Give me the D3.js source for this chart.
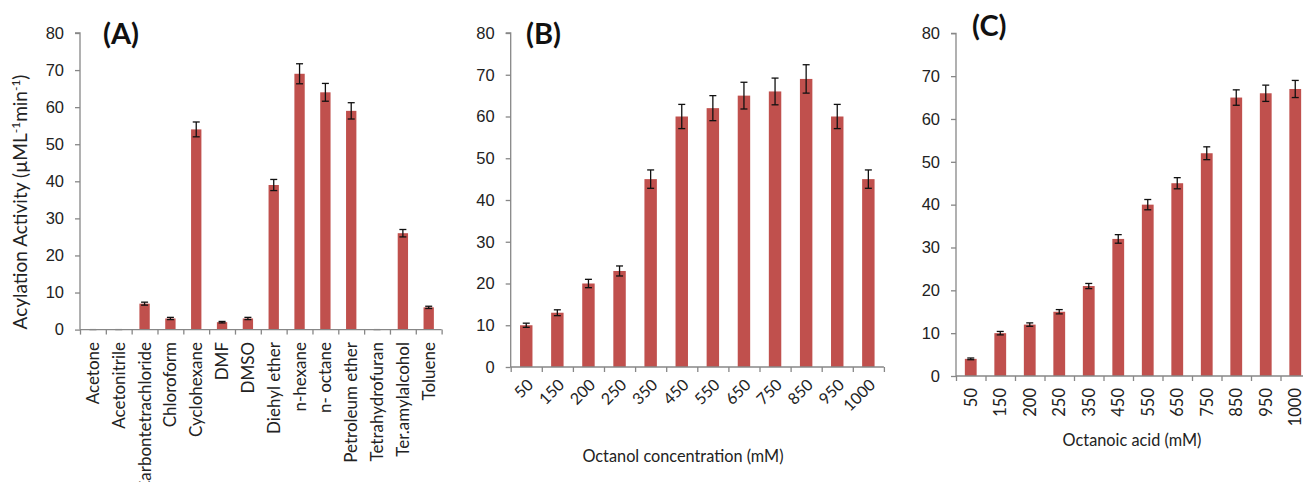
<!DOCTYPE html>
<html>
<head>
<meta charset="utf-8">
<script src="https://cdn.jsdelivr.net/npm/d3@7"></script>
<style>
  body { margin: 0; background: #fff; }
  svg { display: block; font-family: Lato, "Liberation Sans", sans-serif; }
  .axis path, .axis line { stroke: #878787; stroke-width: 1.3px; }
  .axis text { fill: #222; font-size: 16.5px; }
</style>
</head>
<body>
<svg width="1303" height="482"></svg>
<script>
// panel A - solvents
const solvents = ["Acetone", "Acetonitrile", "Carbontetrachloride", "Chloroform", "Cyclohexane", "DMF", "DMSO",
  "Diehyl ether", "n-hexane", "n- octane", "Petroleum ether", "Tetrahydrofuran", "Ter.amylalcohol", "Toluene"];
const solventActivity = [0, 0, 7, 3, 54, 2, 3, 39, 69, 64, 59, 0, 26, 6];
const solventError = [0, 0, 0.4, 0.3, 2, 0.2, 0.3, 1.5, 2.7, 2.4, 2.2, 0, 1, 0.3];

// panel B - octanol concentration
const octanolConc = ["50", "150", "200", "250", "350", "450", "550", "650", "750", "850", "950", "1000"];
const octanolActivity = [10, 13, 20, 23, 45, 60, 62, 65, 66, 69, 60, 45];
const octanolError = [0.5, 0.7, 1, 1.2, 2.2, 2.9, 3, 3.2, 3.2, 3.4, 2.9, 2.2];

// panel C - octanoic acid concentration
const acidConc = ["50", "150", "200", "250", "350", "450", "550", "650", "750", "850", "950", "1000"];
const acidActivity = [4, 10, 12, 15, 21, 32, 40, 45, 52, 65, 66, 67];
const acidError = [0.2, 0.4, 0.4, 0.5, 0.6, 1, 1.2, 1.3, 1.5, 1.8, 1.9, 2];

const yTicks = [0, 10, 20, 30, 40, 50, 60, 70, 80];

const svg = d3.select("svg");
svg.append("rect").attr("width", 1303).attr("height", 482).attr("fill", "#fff");

function drawPanel(opt) {
  const g = svg.append("g");
  const n = opt.cats.length;
  const x1 = opt.x0 + n * opt.step;

  const y = d3.scaleLinear().domain([0, 80]).range([opt.yBottom, opt.yTop]);
  const x = d3.scaleBand().domain(opt.cats).range([opt.x0, x1])
    .paddingInner(0.6).paddingOuter(0.3);
  const xEdge = d3.scaleLinear().domain([0, n]).range([opt.x0, x1]);

  // bars
  g.selectAll(".bar")
    .data(opt.cats)
    .enter()
    .append("rect")
    .attr("class", "bar")
    .attr("x", d => x(d))
    .attr("width", x.bandwidth())
    .attr("y", (d, i) => y(opt.values[i]))
    .attr("height", (d, i) => y(0) - y(opt.values[i]))
    .attr("fill", "#c0504d");

  // error bars
  const cap = 3.5;
  const eb = g.selectAll(".err")
    .data(opt.cats)
    .enter()
    .append("g")
    .attr("class", "err")
    .attr("stroke", (d, i) => opt.values[i] === 0 ? "#aaa" : "#111")
    .attr("stroke-width", 1.3);
  eb.append("line")
    .attr("x1", d => x(d) + x.bandwidth() / 2)
    .attr("x2", d => x(d) + x.bandwidth() / 2)
    .attr("y1", (d, i) => y(opt.values[i] - opt.errors[i]))
    .attr("y2", (d, i) => y(opt.values[i] + opt.errors[i]));
  [1, -1].forEach(s => {
    eb.append("line")
      .attr("x1", d => x(d) + x.bandwidth() / 2 - cap)
      .attr("x2", d => x(d) + x.bandwidth() / 2 + cap)
      .attr("y1", (d, i) => y(opt.values[i] + s * opt.errors[i]))
      .attr("y2", (d, i) => y(opt.values[i] + s * opt.errors[i]));
  });

  // y axis
  g.append("g")
    .attr("class", "axis")
    .attr("transform", `translate(${opt.x0},0)`)
    .call(d3.axisLeft(y).tickValues(yTicks).tickSize(5).tickPadding(11))
    .call(a => a.select(".domain").attr("d", `M-5,${opt.yTop}H0V${opt.yBottom}`));

  // x axis (ticks at category boundaries)
  g.append("g")
    .attr("class", "axis")
    .attr("transform", `translate(0,${opt.yBottom})`)
    .call(d3.axisBottom(xEdge).tickValues(d3.range(n + 1)).tickSize(5).tickFormat(""))
    .call(a => a.select(".domain").attr("d", `M${opt.x0},0H${x1}`));

  // category labels
  const labels = g.append("g")
    .selectAll("text")
    .data(opt.cats)
    .enter()
    .append("text")
    .attr("fill", "#222")
    .attr("font-size", opt.labelSize)
    .attr("text-anchor", "end")
    .attr("dy", "0.35em")
    .text(d => d);
  if (opt.rotate === -45) {
    labels.attr("transform", d =>
      `translate(${x(d) + x.bandwidth() / 2 + 4},${opt.labelY}) rotate(-45)`);
  } else {
    labels.attr("transform", d =>
      `translate(${x(d) + x.bandwidth() / 2},${opt.labelY}) rotate(-90)`);
  }

  // panel letter
  g.append("text")
    .attr("x", opt.titleX)
    .attr("y", opt.titleY)
    .attr("font-size", 29)
    .attr("font-weight", "bold")
    .attr("fill", "#111")
    .text(opt.title);

  if (opt.xTitle) {
    g.append("text")
      .attr("x", opt.xTitleX)
      .attr("y", opt.xTitleY)
      .attr("text-anchor", "middle")
      .attr("font-size", 16.3)
      .attr("fill", "#222")
      .text(opt.xTitle);
  }
}

drawPanel({
  cats: solvents, values: solventActivity, errors: solventError,
  x0: 80, step: 25.83, yTop: 33, yBottom: 329.6,
  rotate: -90, labelY: 342, labelSize: 17,
  title: "(A)", titleX: 103, titleY: 44
});

drawPanel({
  cats: octanolConc, values: octanolActivity, errors: octanolError,
  x0: 510.7, step: 31.1, yTop: 33, yBottom: 367,
  rotate: -45, labelY: 382, labelSize: 16,
  title: "(B)", titleX: 526, titleY: 44,
  xTitle: "Octanol concentration (mM)", xTitleX: 683, xTitleY: 462
});

drawPanel({
  cats: acidConc, values: acidActivity, errors: acidError,
  x0: 956, step: 29.5, yTop: 33.3, yBottom: 376,
  rotate: -90, labelY: 388, labelSize: 16.5,
  title: "(C)", titleX: 972, titleY: 36,
  xTitle: "Octanoic acid (mM)", xTitleX: 1132, xTitleY: 446
});

// y axis title for panel A
const yTitle = svg.append("text")
  .attr("transform", "translate(27,202) rotate(-90)")
  .attr("text-anchor", "middle")
  .attr("font-size", 19)
  .attr("fill", "#222");
yTitle.append("tspan").text("Acylation Activity (µML");
yTitle.append("tspan").attr("font-size", 12).attr("dy", -7).text("-1");
yTitle.append("tspan").attr("dy", 7).text("min");
yTitle.append("tspan").attr("font-size", 12).attr("dy", -7).text("-1");
yTitle.append("tspan").attr("dy", 7).text(")");
</script>
</body>
</html>
